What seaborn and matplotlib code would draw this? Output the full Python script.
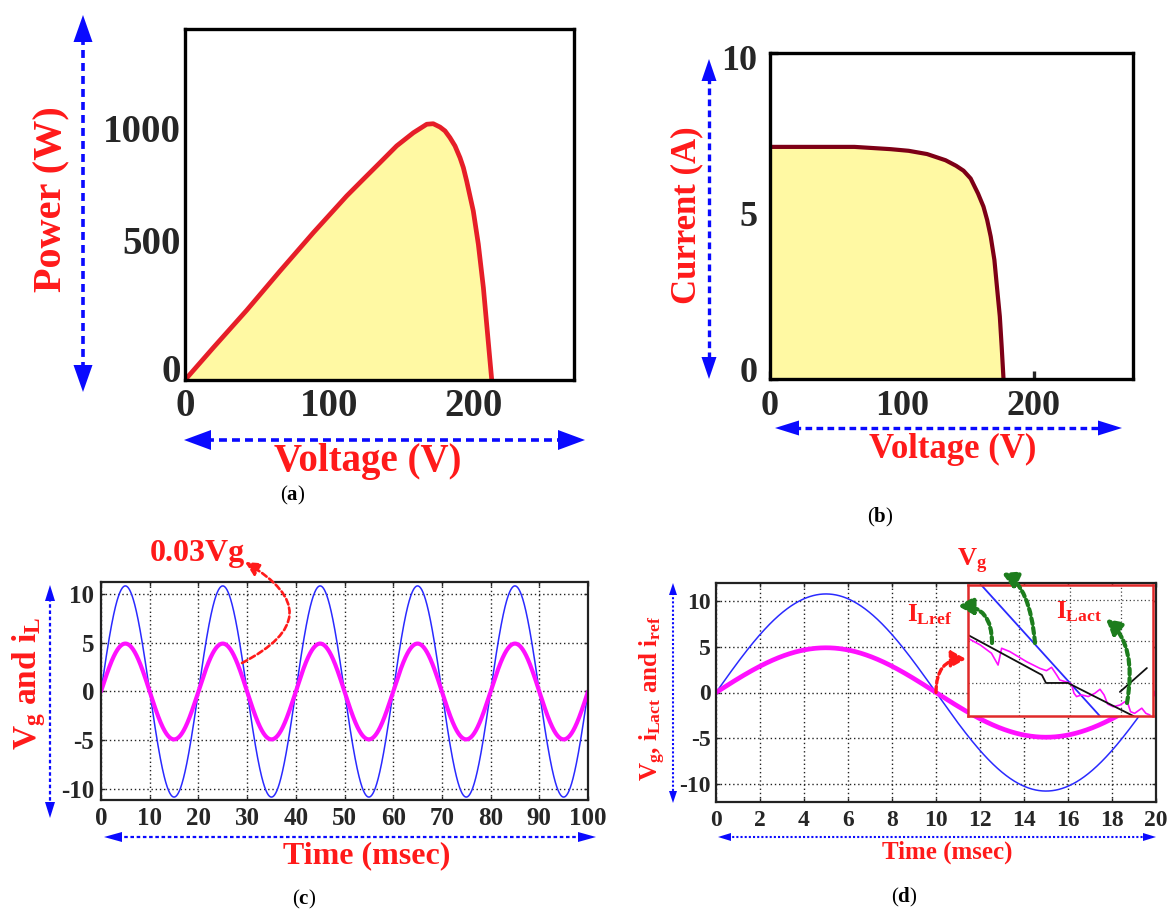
import numpy as np
import pandas as pd
import matplotlib
matplotlib.use("Agg")
import matplotlib.pyplot as plt
import seaborn as sns
from matplotlib.lines import Line2D
from matplotlib.patches import Polygon
from matplotlib.transforms import ScaledTranslation

# ---------------- data ----------------
# (a) P-V characteristic of the PV array
pv_voltage = [0, 19.6, 42.8, 65.9, 89.1, 112.2, 123.8, 135.3, 146.9, 158.5, 167.8,
              172.3, 177.0, 180.5, 183.9, 187.4, 190.9, 193.2, 195.5, 200.1, 203.6,
              207.1, 209.4, 211.7, 212.9]
pv_power = [0, 125, 270, 422, 571, 713, 778, 842, 907, 958, 991, 993, 980, 965, 939,
            907, 861, 823, 771, 655, 526, 358, 216, 74, 0]

# (b) I-V characteristic of the PV array
iv_voltage = [0, 64, 91.5, 105, 119, 133, 141, 146.6, 152, 157.6, 161.7, 164.5,
              167.2, 170, 171.9, 174.1, 175.5, 176.9]
iv_current = [7.12, 7.12, 7.05, 7.0, 6.9, 6.71, 6.54, 6.39, 6.15, 5.69, 5.29, 4.88,
              4.37, 3.65, 2.84, 1.92, 1.0, 0.0]

# (c), (d) grid voltage (scaled) and inductor current
grid_freq_hz = 50
vg_peak = 10.8
il_peak = 4.9

# (d) zoomed view around the zero crossing at 10 ms
inset_ref_t = [9.8, 9.945, 9.953, 9.996, 10.125]
inset_ref_i = [0.289, 0.048, 0.0, 0.0, -0.2]
inset_ref2_t = [10.098, 10.151]
inset_ref2_i = [-0.054, 0.09]
inset_act_t = [9.800, 9.824, 9.846, 9.859, 9.866, 9.882, 9.915, 9.941, 9.954, 9.964,
               9.974, 9.980, 9.997, 10.003, 10.008, 10.013, 10.023, 10.036, 10.049,
               10.059, 10.067, 10.074, 10.085, 10.098, 10.108, 10.114, 10.119,
               10.127, 10.141, 10.149, 10.157]
inset_act_i = [0.269, 0.229, 0.179, 0.108, 0.209, 0.189, 0.128, 0.088, 0.074, 0.094,
               0.048, 0.018, 0.002, -0.006, -0.062, -0.082, -0.072, -0.082, -0.062,
               -0.038, -0.072, -0.127, -0.143, -0.133, -0.113, -0.127, -0.173,
               -0.183, -0.152, -0.183, -0.193]

a_xticks = [0, 100, 200]
a_yticks = [0, 500, 1000]
b_xticks = [0, 100, 200]
b_yticks = [0, 5, 10]
c_xticks = list(range(0, 101, 10))
c_yticks = [-10, -5, 0, 5, 10]
d_xticks = list(range(0, 21, 2))
d_yticks = [-10, -5, 0, 5, 10]

# ---------------- style ----------------
sns.set_style("white")
plt.rcParams["font.family"] = ["Liberation Serif", "DejaVu Serif"]
plt.rcParams["font.weight"] = "bold"
plt.rcParams["mathtext.fontset"] = "custom"
plt.rcParams["mathtext.rm"] = "Liberation Serif"
plt.rcParams["mathtext.it"] = "Liberation Serif:italic"
plt.rcParams["mathtext.bf"] = "Liberation Serif:bold"

RED = "#ff1a1a"
BLUE_ARROW = "#0a0aff"
YELLOW = "#fff9a3"
GREEN = "#1d7d1d"

W, H = 1168, 911
fig = plt.figure(figsize=(W / 100, H / 100), dpi=100)


def ax_px(left, top, right, bottom):
    return fig.add_axes([left / W, 1 - bottom / H, (right - left) / W, (bottom - top) / H])


def fxy(x, y):
    return x / W, 1 - y / H


def double_arrow(p0, p1, head_len, head_w, lw, dashes):
    x0, y0 = p0
    x1, y1 = p1
    d = np.hypot(x1 - x0, y1 - y0)
    ux, uy = (x1 - x0) / d, (y1 - y0) / d
    nx, ny = -uy, ux
    a = (x0 + ux * head_len * 0.8, y0 + uy * head_len * 0.8)
    b = (x1 - ux * head_len * 0.8, y1 - uy * head_len * 0.8)
    fa, fb = fxy(*a), fxy(*b)
    fig.add_artist(Line2D([fa[0], fb[0]], [fa[1], fb[1]], transform=fig.transFigure,
                          color=BLUE_ARROW, lw=lw, linestyle=(0, dashes),
                          solid_capstyle="butt", dash_capstyle="butt"))
    for tip, sgn in ((p0, 1), (p1, -1)):
        bx, by = tip[0] + sgn * ux * head_len, tip[1] + sgn * uy * head_len
        pts = [fxy(*tip),
               fxy(bx + nx * head_w / 2, by + ny * head_w / 2),
               fxy(bx - nx * head_w / 2, by - ny * head_w / 2)]
        fig.add_artist(Polygon(pts, closed=True, transform=fig.transFigure,
                               facecolor=BLUE_ARROW, edgecolor="none"))


def curved_arrow(ax, tail, head, color, conn, lw, dashes, scale, hl, hw,
                 tail_coords="figure pixels"):
    if tail_coords == "figure pixels":
        tail = (tail[0], H - tail[1])
    ax.annotate("", xy=(head[0], H - head[1]), xycoords="figure pixels",
                xytext=tail, textcoords=tail_coords,
                arrowprops=dict(arrowstyle=f"-|>,head_length={hl},head_width={hw}",
                                connectionstyle=conn, color=color, lw=lw,
                                linestyle=(0, dashes), shrinkA=0, shrinkB=0,
                                mutation_scale=scale),
                annotation_clip=False)


def label_px(x, y, s, size, color="black", rotation=0, weight="bold"):
    fx, fy = fxy(x, y)
    fig.text(fx, fy, s, fontsize=size, color=color, rotation=rotation,
             ha="center", va="center", fontweight=weight)


def nudge_labels(labels, offsets_px):
    for lab, dy in zip(labels, offsets_px):
        lab.set_transform(lab.get_transform()
                          + ScaledTranslation(0, dy / 100, fig.dpi_scale_trans))


# ---------------- (a) P-V curve ----------------
ax_a = ax_px(185, 29, 574, 380)
df_a = pd.DataFrame({"V": pv_voltage, "P": pv_power})
ax_a.fill_between(df_a["V"], df_a["P"], color=YELLOW, lw=0)
sns.lineplot(data=df_a, x="V", y="P", ax=ax_a, color="#e61e28", lw=3.4,
             sort=False, estimator=None)
ax_a.set_xlim(0, 270)
ax_a.set_ylim(0, 1360)
ax_a.set_xticks(a_xticks)
ax_a.set_yticks(a_yticks)
ax_a.tick_params(length=0, labelsize=28, pad=6)
ax_a.tick_params(axis="y", pad=3)
ax_a.set_xlabel("")
ax_a.set_ylabel("")
for s in ax_a.spines.values():
    s.set_linewidth(2.4)
    s.set_color("black")
nudge_labels(ax_a.get_yticklabels(), [12, 11, -6])

label_px(52, 199, "Power (W)", 29, RED, rotation=90)
label_px(368, 462, "Voltage (V)", 28, RED)
double_arrow((83, 15), (83, 392), 27, 19, 2.6, (2.2, 1.4))
double_arrow((184, 440), (585, 440), 27, 20, 2.6, (2.2, 1.4))
label_px(293, 495, r"($\mathbf{a}$)", 15, weight="normal")

# ---------------- (b) I-V curve ----------------
ax_b = ax_px(770, 53, 1133, 379)
df_b = pd.DataFrame({"V": iv_voltage, "I": iv_current})
ax_b.fill_between(df_b["V"], df_b["I"], color=YELLOW, lw=0)
sns.lineplot(data=df_b, x="V", y="I", ax=ax_b, color="#7d0016", lw=3.0,
             sort=False, estimator=None)
ax_b.set_xlim(0, 275)
ax_b.set_ylim(0, 10)
ax_b.set_xticks(b_xticks)
ax_b.set_yticks(b_yticks)
ax_b.tick_params(direction="in", length=6, width=2.4, labelsize=26, pad=8,
                 bottom=True, left=True)
ax_b.tick_params(axis="y", pad=9)
ax_b.set_xlabel("")
ax_b.set_ylabel("")
for s in ax_b.spines.values():
    s.set_linewidth(2.4)
    s.set_color("black")
nudge_labels(ax_b.get_yticklabels(), [10, 2, -4])

label_px(687, 215, "Current (A)", 25, RED, rotation=90)
label_px(953, 449, "Voltage (V)", 25, RED)
double_arrow((709, 59), (709, 379), 22, 15, 2.4, (2.0, 1.3))
double_arrow((775, 428), (1122, 428), 24, 15, 2.4, (2.0, 1.3))
label_px(880, 517, r"($\mathbf{b}$)", 15, weight="normal")

# ---------------- (c) five cycles ----------------
t_c = np.linspace(0, 100, 4001)
omega = 2 * np.pi * grid_freq_hz / 1000.0
df_c = pd.DataFrame({"t": t_c,
                     "vg": vg_peak * np.sin(omega * t_c),
                     "il": il_peak * np.sin(omega * t_c)})
ax_c = ax_px(101, 582, 588, 800)
sns.lineplot(data=df_c, x="t", y="vg", ax=ax_c, color="#2a2aff", lw=1.1,
             sort=False, estimator=None)
sns.lineplot(data=df_c, x="t", y="il", ax=ax_c, color="#ff10ff", lw=3.0,
             sort=False, estimator=None)
ax_c.set_xlim(0, 100)
ax_c.set_ylim(-11.1, 11.2)
ax_c.set_xticks(c_xticks)
ax_c.set_yticks(c_yticks)
ax_c.set_yticklabels([str(v) for v in c_yticks])
ax_c.grid(True, color="#222222", linestyle=(0, (1, 2)), lw=1.0)
ax_c.tick_params(direction="in", length=3, width=1, labelsize=18, pad=5,
                 top=True, right=True, bottom=True, left=True)
ax_c.set_xlabel("")
ax_c.set_ylabel("")
for s in ax_c.spines.values():
    s.set_linewidth(1.6)
    s.set_color("#222222")

label_px(29, 683, r"$\mathbf{V_g}$ and $\mathbf{i_L}$", 24, RED, rotation=90)
label_px(367, 856, "Time (msec)", 23, RED)
double_arrow((50, 585), (50, 818), 16, 10, 1.6, (1.6, 1.2))
double_arrow((104, 837), (596, 837), 18, 10, 1.6, (1.6, 1.2))
label_px(197, 554, "0.03Vg", 23, RED)
curved_arrow(ax_c, (242, 663), (245, 562), RED, "arc3,rad=0.9", 1.9, (2.2, 1.2),
             12, 0.7, 0.35)
label_px(304, 899, r"($\mathbf{c}$)", 15, weight="normal")

# ---------------- (d) one cycle with zoom ----------------
t_d = np.linspace(0, 20, 2001)
df_d = pd.DataFrame({"t": t_d,
                     "vg": vg_peak * np.sin(omega * t_d),
                     "il": il_peak * np.sin(omega * t_d)})
ax_d = ax_px(716, 583, 1156, 802)
sns.lineplot(data=df_d, x="t", y="vg", ax=ax_d, color="#2a2aff", lw=1.1,
             sort=False, estimator=None)
sns.lineplot(data=df_d, x="t", y="il", ax=ax_d, color="#ff10ff", lw=3.4,
             sort=False, estimator=None)
ax_d.set_xlim(0, 20)
ax_d.set_ylim(-12, 12)
ax_d.set_xticks(d_xticks)
ax_d.set_yticks(d_yticks)
ax_d.set_yticklabels([str(v) for v in d_yticks])
ax_d.grid(True, color="#222222", linestyle=(0, (1, 2)), lw=1.0)
ax_d.tick_params(direction="in", length=3, width=1, labelsize=17, pad=6,
                 top=True, right=True, bottom=True, left=True)
ax_d.tick_params(axis="y", pad=4)
ax_d.set_xlabel("")
ax_d.set_ylabel("")
for s in ax_d.spines.values():
    s.set_linewidth(1.6)
    s.set_color("#222222")

# zoomed window around the 10 ms zero crossing
ax_in = ax_px(968, 585, 1153, 716)
ax_in.set_zorder(ax_d.get_zorder() + 1)
t_in = np.linspace(9.8, 10.17, 200)
df_in = pd.DataFrame({"t": t_in, "vg": vg_peak * np.sin(omega * t_in)})
sns.lineplot(data=df_in, x="t", y="vg", ax=ax_in, color="#2a2aff", lw=1.3,
             sort=False, estimator=None)
sns.lineplot(x=inset_act_t, y=inset_act_i, ax=ax_in, color="#ff10ff", lw=1.2,
             sort=False, estimator=None)
sns.lineplot(x=inset_ref_t, y=inset_ref_i, ax=ax_in, color="#111111", lw=1.3,
             sort=False, estimator=None)
sns.lineplot(x=inset_ref2_t, y=inset_ref2_i, ax=ax_in, color="#111111", lw=1.3,
             sort=False, estimator=None)
ax_in.set_xlim(9.8, 10.163)
ax_in.set_ylim(-0.199, 0.59)
ax_in.set_xticks([9.9, 10.0, 10.1])
ax_in.set_yticks([0, 0.25, 0.5])
ax_in.grid(True, color="#444444", linestyle=(0, (1, 2)), lw=0.9)
ax_in.tick_params(length=0, labelbottom=False, labelleft=False)
ax_in.set_xlabel("")
ax_in.set_ylabel("")
ax_in.set_facecolor("white")
for s in ax_in.spines.values():
    s.set_linewidth(1.8)
    s.set_color("#e02a2a")

label_px(653, 698, r"$\mathbf{V_g}$, $\mathbf{i_{Lact}}$ and $\mathbf{i_{ref}}$", 18,
         RED, rotation=90)
label_px(947, 852, "Time (msec)", 18, RED)
double_arrow((673, 583), (673, 803), 12, 8, 1.5, (1.0, 1.0))
double_arrow((718, 837), (1156, 837), 13, 8, 1.5, (1.0, 1.0))

label_px(972, 561, r"$\mathbf{V_g}$", 19, RED)
label_px(930, 615, r"$\mathbf{I_{Lref}}$", 18, RED)
label_px(1079, 612, r"$\mathbf{I_{Lact}}$", 18, RED)

curved_arrow(ax_d, (10, 0), (966, 659), RED, "angle3,angleA=90,angleB=0", 2.4,
             (1.8, 1.0), 11, 0.8, 0.45, tail_coords="data")
curved_arrow(ax_in, (992, 643), (958, 606), GREEN, "angle3,angleA=90,angleB=0",
             3.0, (1.4, 0.9), 11, 0.8, 0.45)
curved_arrow(ax_in, (1035, 643), (1002, 573), GREEN, "angle3,angleA=95,angleB=-25",
             3.0, (1.4, 0.9), 11, 0.8, 0.45)
curved_arrow(ax_in, (1127, 703), (1106, 619), GREEN, "angle3,angleA=80,angleB=-40",
             3.0, (1.4, 0.9), 11, 0.8, 0.45)

label_px(904, 897, r"($\mathbf{d}$)", 15, weight="normal")

fig.savefig("out.png", dpi=100, facecolor="white")
